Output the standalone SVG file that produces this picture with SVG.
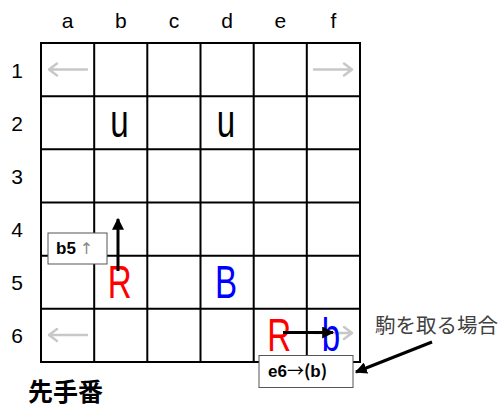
<svg xmlns="http://www.w3.org/2000/svg" width="502" height="407" viewBox="0 0 502 407">
<style>
.lbl{font-family:"Liberation Sans",Arial,sans-serif;font-size:21px;fill:#000;text-anchor:middle}
.grid{stroke:#000;stroke-width:2;fill:none}
.piece{font-family:"Liberation Sans",Arial,sans-serif;font-size:46px;text-anchor:middle}
.ghost{stroke:#c8c8c8;stroke-width:2.5;fill:none;stroke-linecap:round;stroke-linejoin:round}
.move{stroke:#000;stroke-width:3;fill:none}
.box{fill:#fff;stroke:#555;stroke-width:1}
.boxt{font-family:"Liberation Sans",Arial,sans-serif;font-size:17px;font-weight:bold;fill:#000}
.cjk{font-family:"Noto Sans CJK JP","Noto Sans CJK SC",sans-serif}
</style>
<defs>
<marker id="ah" viewBox="0 0 10 10" refX="9" refY="5" markerWidth="4" markerHeight="4" orient="auto" markerUnits="strokeWidth">
<path d="M0,0 L10,5 L0,10 z" fill="#000"/>
</marker>
</defs>
<g id="labels">
<text class="lbl" x="67.6" y="28">a</text>
<text class="lbl" x="120.8" y="28">b</text>
<text class="lbl" x="173.9" y="28">c</text>
<text class="lbl" x="227.1" y="28">d</text>
<text class="lbl" x="280.3" y="28">e</text>
<text class="lbl" x="333.4" y="28">f</text>
<text class="lbl" x="17" y="78">1</text>
<text class="lbl" x="17" y="131">2</text>
<text class="lbl" x="17" y="184">3</text>
<text class="lbl" x="17" y="237">4</text>
<text class="lbl" x="17" y="290">5</text>
<text class="lbl" x="17" y="343">6</text>
</g>
<g id="board">
<rect class="grid" x="41" y="43" width="319" height="319"/>
<path class="grid" d="M94.2,43V362M147.3,43V362M200.5,43V362M253.7,43V362M306.8,43V362M41,96.2H360M41,149.3H360M41,202.5H360M41,255.7H360M41,308.8H360"/>
</g>
<g id="ghost-arrows">
<path class="ghost" d="M87,69.5H49M57,63.5L49,69.5L57,75.5"/>
<path class="ghost" d="M314,69.5H352M344,63.5L352,69.5L344,75.5"/>
<path class="ghost" d="M87,335H49M57,329L49,335L57,341"/>
<path class="ghost" d="M314,333H352M344,327L352,333L344,339"/>
</g>
<g id="pieces">
<text class="piece" fill="#000" transform="translate(119.5,137) scale(0.72,1)">u</text>
<text class="piece" fill="#000" transform="translate(226,137) scale(0.72,1)">u</text>
<text class="piece" fill="#ff0000" transform="translate(119.7,298) scale(0.72,1)">R</text>
<text class="piece" fill="#0000ff" transform="translate(226,298) scale(0.72,1)">B</text>
<text class="piece" fill="#ff0000" transform="translate(279.2,351) scale(0.72,1)">R</text>
<text class="piece" fill="#0000ff" transform="translate(331,351) scale(0.72,1)">b</text>
</g>
<g id="connectors">
<line class="move" x1="118" y1="271" x2="118" y2="219" marker-end="url(#ah)"/>
<line class="move" x1="283" y1="332.5" x2="333" y2="332.5" marker-end="url(#ah)"/>
<line class="move" x1="432" y1="342" x2="356" y2="372" marker-end="url(#ah)"/>
</g>
<g id="box-b5">
<rect class="box" x="48" y="233" width="59" height="31"/>
<text class="boxt" x="56" y="254">b5<tspan font-family="'DejaVu Sans',sans-serif" font-weight="normal" font-size="16" fill="#888" dx="4">↑</tspan></text>
</g>
<g id="box-e6">
<rect class="box" x="259" y="355.5" width="94" height="32"/>
<text class="boxt" x="268" y="377">e6<tspan class="cjk" font-weight="normal">→</tspan><tspan class="cjk">(</tspan>b<tspan class="cjk">)</tspan></text>
</g>
<g id="callout">
<text class="cjk" x="375" y="333" font-size="20.5" fill="#404040">駒を取る場合</text>
</g>
<g id="title">
<text class="cjk" x="28" y="401" font-size="25" font-weight="bold" fill="#000">先手番</text>
</g>
</svg>
